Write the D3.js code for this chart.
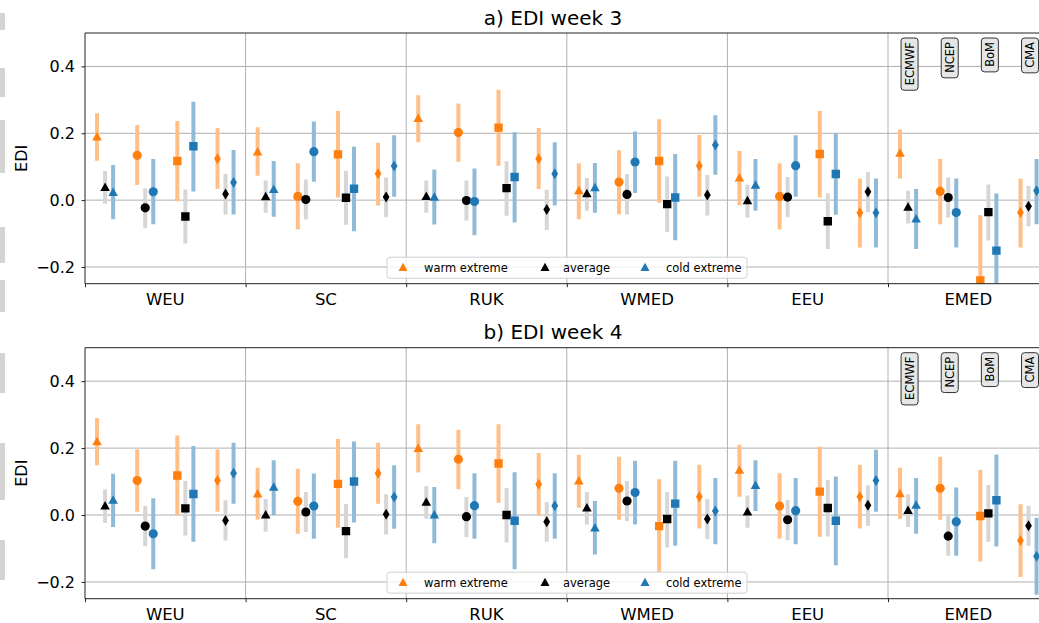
<!DOCTYPE html>
<html>
<head>
<meta charset="utf-8">
<script src="https://cdn.jsdelivr.net/npm/d3@7"></script>
<style>
  body { margin: 0; background: white; }
  svg { font-family: "DejaVu Sans", sans-serif; display: block; }
</style>
</head>
<body>
<div id="chart"></div>
<script>
// Categorías y etiquetas
const regions = ["WEU", "SC", "RUK", "WMED", "EEU", "EMED"];
const models = ["ECMWF", "NCEP", "BoM", "CMA"];
const categories = ["warm extreme", "average", "cold extreme"];
const yTicks = [-0.2, 0.0, 0.2, 0.4];

// Valores: [EDI, límite inferior, límite superior] por región y modelo
const week3Warm = [
  [[0.188, 0.118, 0.26], [0.134, 0.045, 0.225], [0.117, -0.003, 0.237], [0.124, 0.033, 0.216]],
  [[0.143, 0.073, 0.218], [0.011, -0.088, 0.11], [0.137, 0.008, 0.267], [0.079, -0.016, 0.172]],
  [[0.243, 0.173, 0.314], [0.202, 0.115, 0.289], [0.217, 0.103, 0.33], [0.124, 0.033, 0.216]],
  [[0.027, -0.057, 0.11], [0.054, -0.042, 0.149], [0.117, -0.008, 0.242], [0.103, 0.01, 0.195]],
  [[0.065, -0.015, 0.147], [0.011, -0.088, 0.11], [0.138, 0.008, 0.267], [-0.038, -0.142, 0.065]],
  [[0.139, 0.065, 0.211], [0.026, -0.072, 0.123], [-0.24, -0.43, -0.045], [-0.037, -0.142, 0.065]]
];
const week3Avg = [
  [[0.037, -0.011, 0.087], [-0.023, -0.084, 0.035], [-0.049, -0.13, 0.032], [0.018, -0.043, 0.078]],
  [[0.009, -0.038, 0.059], [0.002, -0.058, 0.062], [0.007, -0.074, 0.088], [0.009, -0.051, 0.068]],
  [[0.01, -0.038, 0.059], [-0.001, -0.061, 0.059], [0.036, -0.047, 0.116], [-0.028, -0.089, 0.031]],
  [[0.018, -0.032, 0.066], [0.017, -0.043, 0.078], [-0.012, -0.095, 0.071], [0.015, -0.046, 0.075]],
  [[-0.003, -0.052, 0.046], [0.009, -0.051, 0.069], [-0.063, -0.146, 0.02], [0.025, -0.036, 0.084]],
  [[-0.022, -0.07, 0.028], [0.008, -0.052, 0.068], [-0.036, -0.121, 0.047], [-0.018, -0.078, 0.042]]
];
const week3Cold = [
  [[0.022, -0.057, 0.105], [0.025, -0.072, 0.123], [0.161, 0.026, 0.294], [0.053, -0.043, 0.15]],
  [[0.031, -0.05, 0.117], [0.145, 0.055, 0.235], [0.034, -0.093, 0.16], [0.102, 0.01, 0.194]],
  [[0.008, -0.073, 0.092], [-0.004, -0.105, 0.095], [0.069, -0.067, 0.203], [0.079, -0.016, 0.173]],
  [[0.036, -0.038, 0.111], [0.114, 0.021, 0.205], [0.008, -0.12, 0.138], [0.165, 0.076, 0.254]],
  [[0.044, -0.032, 0.123], [0.103, 0.01, 0.194], [0.078, -0.044, 0.2], [-0.038, -0.142, 0.065]],
  [[-0.057, -0.146, 0.033], [-0.037, -0.142, 0.065], [-0.151, -0.32, 0.02], [0.028, -0.072, 0.123]]
];
const week4Warm = [
  [[0.218, 0.149, 0.29], [0.103, 0.01, 0.196], [0.118, -0.001, 0.238], [0.103, 0.01, 0.196]],
  [[0.062, -0.013, 0.141], [0.041, -0.056, 0.138], [0.093, -0.038, 0.227], [0.125, 0.034, 0.216]],
  [[0.198, 0.127, 0.271], [0.167, 0.077, 0.255], [0.154, 0.037, 0.271], [0.092, -0.001, 0.185]],
  [[0.101, 0.022, 0.18], [0.08, -0.014, 0.174], [-0.033, -0.17, 0.107], [0.055, -0.04, 0.15]],
  [[0.133, 0.055, 0.21], [0.027, -0.071, 0.125], [0.07, -0.065, 0.204], [0.055, -0.04, 0.15]],
  [[0.063, -0.012, 0.141], [0.08, -0.014, 0.174], [-0.003, -0.139, 0.135], [-0.076, -0.185, 0.032]]
];
const week4Avg = [
  [[0.026, -0.024, 0.076], [-0.033, -0.093, 0.027], [0.02, -0.061, 0.102], [-0.016, -0.076, 0.044]],
  [[-0.001, -0.05, 0.048], [0.009, -0.051, 0.069], [-0.048, -0.129, 0.033], [0.002, -0.058, 0.062]],
  [[0.037, -0.011, 0.086], [-0.005, -0.066, 0.054], [0.0, -0.082, 0.081], [-0.02, -0.08, 0.039]],
  [[0.02, -0.028, 0.069], [0.042, -0.018, 0.102], [-0.012, -0.097, 0.069], [-0.012, -0.072, 0.048]],
  [[0.008, -0.038, 0.058], [-0.014, -0.075, 0.045], [0.021, -0.064, 0.105], [0.029, -0.032, 0.089]],
  [[0.013, -0.036, 0.062], [-0.063, -0.122, -0.003], [0.005, -0.08, 0.09], [-0.032, -0.092, 0.028]]
];
const week4Cold = [
  [[0.043, -0.036, 0.123], [-0.056, -0.162, 0.05], [0.063, -0.08, 0.206], [0.125, 0.034, 0.216]],
  [[0.082, 0.0, 0.164], [0.027, -0.071, 0.124], [0.1, -0.022, 0.22], [0.054, -0.041, 0.149]],
  [[-0.001, -0.084, 0.084], [0.028, -0.071, 0.125], [-0.017, -0.162, 0.128], [0.028, -0.071, 0.125]],
  [[-0.04, -0.118, 0.042], [0.067, -0.028, 0.162], [0.034, -0.092, 0.162], [0.012, -0.087, 0.111]],
  [[0.087, 0.012, 0.164], [0.013, -0.087, 0.111], [-0.017, -0.15, 0.115], [0.103, 0.01, 0.195]],
  [[0.028, -0.056, 0.111], [-0.02, -0.122, 0.082], [0.044, -0.094, 0.181], [-0.123, -0.238, -0.008]]
];

// Configuración
const width = 1039, height = 623;
const left = 85, right = 1048.6;
const panels = [
  { title: "a) EDI week 3", top: 33, bottom: 283.7, series: [week3Warm, week3Avg, week3Cold] },
  { title: "b) EDI week 4", top: 347.7, bottom: 598.7, series: [week4Warm, week4Avg, week4Cold] }
];
const colors = ["#ff7f0e", "#000000", "#1f77b4"];
const barColors = ["#ffbf86", "#d6d6d6", "#8fbbd9"];
const catOffset = [-0.05, 0, 0.05];
const fontFamily = "DejaVu Sans, sans-serif";

const xScale = d3.scaleLinear().domain([0, 6]).range([left, right]);
const modelX = (r, m, c) => xScale(r + 0.125 + m * 0.25 + (c === undefined ? 0 : catOffset[c]));

// Formas de marcador por modelo
function markerPath(m) {
  if (m === 0) return "M0,-5.3L4.8,3.2L-4.8,3.2Z";
  if (m === 1) return d3.symbol(d3.symbolCircle, 66)();
  if (m === 2) return "M-4.2,-4.2H4.2V4.2H-4.2Z";
  return "M0,-5.5L3.4,0L0,5.5L-3.4,0Z";
}

const svg = d3.select("#chart").append("svg")
  .attr("width", width).attr("height", height);
svg.append("rect").attr("width", width).attr("height", height).attr("fill", "white");

// Bloques grises del borde izquierdo
const edgeBlocks = [[13, 30], [68, 97], [120, 173], [227, 263], [280, 312], [353, 393], [443, 500], [540, 580]];
svg.selectAll(".edge").data(edgeBlocks).join("rect")
  .attr("x", 0).attr("width", 5)
  .attr("y", d => d[0]).attr("height", d => d[1] - d[0])
  .attr("fill", "#d4d4d4");

panels.forEach((p, pi) => {
  const yScale = d3.scaleLinear().domain([-0.25, 0.5]).range([p.bottom, p.top]);
  const g = svg.append("g");

  const clipId = "clip" + pi;
  svg.append("clipPath").attr("id", clipId).append("rect")
    .attr("x", left).attr("y", p.top)
    .attr("width", right - left).attr("height", p.bottom - p.top);

  // Rejilla
  g.selectAll(".hgrid").data(yTicks).join("line")
    .attr("x1", left).attr("x2", right)
    .attr("y1", d => yScale(d)).attr("y2", d => yScale(d))
    .attr("stroke", "#b0b0b0").attr("stroke-width", 1);
  g.selectAll(".vgrid").data(d3.range(1, 6)).join("line")
    .attr("x1", d => xScale(d)).attr("x2", d => xScale(d))
    .attr("y1", p.top).attr("y2", p.bottom)
    .attr("stroke", "#b0b0b0").attr("stroke-width", 1);

  // Barras de error y marcadores
  const plot = g.append("g").attr("clip-path", `url(#${clipId})`);
  p.series.forEach((ser, c) => {
    ser.forEach((row, r) => {
      row.forEach((d, m) => {
        plot.append("line")
          .attr("x1", modelX(r, m, c)).attr("x2", modelX(r, m, c))
          .attr("y1", yScale(d[1])).attr("y2", yScale(d[2]))
          .attr("stroke", barColors[c]).attr("stroke-width", 4);
      });
    });
  });
  p.series.forEach((ser, c) => {
    ser.forEach((row, r) => {
      row.forEach((d, m) => {
        plot.append("path")
          .attr("d", markerPath(m))
          .attr("transform", `translate(${modelX(r, m, c)},${yScale(d[0])})`)
          .attr("fill", colors[c]);
      });
    });
  });

  // Ejes
  const yAxis = d3.axisLeft(yScale).tickValues(yTicks).tickFormat(d3.format(".1f"))
    .tickSize(3.5).tickPadding(6.5);
  const ya = g.append("g").attr("transform", `translate(${left},0)`).call(yAxis)
    .attr("font-family", fontFamily).attr("font-size", 16);
  ya.select(".domain").remove();
  ya.selectAll("text").attr("fill", "#000");
  ya.selectAll("line").attr("stroke", "#222");

  const xAxis = d3.axisBottom(xScale).tickValues(d3.range(0, 7)).tickFormat("").tickSize(3.5);
  const xa = g.append("g").attr("transform", `translate(0,${p.bottom})`).call(xAxis);
  xa.select(".domain").remove();
  xa.selectAll("line").attr("stroke", "#222");

  g.selectAll(".rlabel").data(regions).join("text")
    .attr("x", (d, i) => xScale(i + 0.5))
    .attr("y", p.bottom + 21)
    .attr("text-anchor", "middle")
    .style("font-size", "16.5px")
    .text(d => d);

  // Bordes
  g.append("line").attr("x1", left).attr("x2", left).attr("y1", p.top).attr("y2", p.bottom)
    .attr("stroke", "#222").attr("stroke-width", 1);
  g.append("line").attr("x1", left).attr("x2", right).attr("y1", p.bottom).attr("y2", p.bottom)
    .attr("stroke", "#222").attr("stroke-width", 1);
  g.append("line").attr("x1", left).attr("x2", right).attr("y1", p.top).attr("y2", p.top)
    .attr("stroke", "#222").attr("stroke-width", 1);

  // Título y etiqueta del eje Y
  g.append("text")
    .attr("x", 553).attr("y", p.top - 8.5)
    .attr("text-anchor", "middle")
    .style("font-size", "20px")
    .text(p.title);
  g.append("text")
    .attr("transform", `translate(27,${(p.top + p.bottom) / 2}) rotate(-90)`)
    .attr("text-anchor", "middle")
    .style("font-size", "16px")
    .text("EDI");

  // Etiquetas de modelos en EMED
  models.forEach((name, m) => {
    const cx = modelX(5, m) + 1.5;
    const lg = g.append("g");
    const rect = lg.append("rect");
    const t = lg.append("text")
      .attr("transform", `translate(${cx + 4},${p.top + 9}) rotate(-90)`)
      .attr("text-anchor", "end")
      .style("font-size", "11.5px")
      .text(name);
    const len = t.node().getComputedTextLength();
    rect.attr("x", cx - 8.5).attr("y", p.top + 5)
      .attr("width", 17).attr("height", len + 9)
      .attr("rx", 3)
      .attr("fill", "#e6e6e6").attr("stroke", "#333").attr("stroke-width", 1);
  });

  // Leyenda
  const lx = 387, ly = p.bottom - 26.5;
  const leg = g.append("g");
  leg.append("rect")
    .attr("x", lx).attr("y", ly).attr("width", 360).attr("height", 21)
    .attr("rx", 3)
    .attr("fill", "white").attr("fill-opacity", 0.8)
    .attr("stroke", "#d0d0d0");
  const legX = [[403, 424], [545, 563], [645, 666]];
  categories.forEach((name, c) => {
    leg.append("path")
      .attr("d", "M0,-5L4.5,3.2L-4.5,3.2Z")
      .attr("transform", `translate(${legX[c][0]},${ly + 10.5})`)
      .attr("fill", colors[c]);
    leg.append("text")
      .attr("x", legX[c][1]).attr("y", ly + 14.5)
      .style("font-size", "11.5px")
      .text(name);
  });
});
</script>
</body>
</html>
